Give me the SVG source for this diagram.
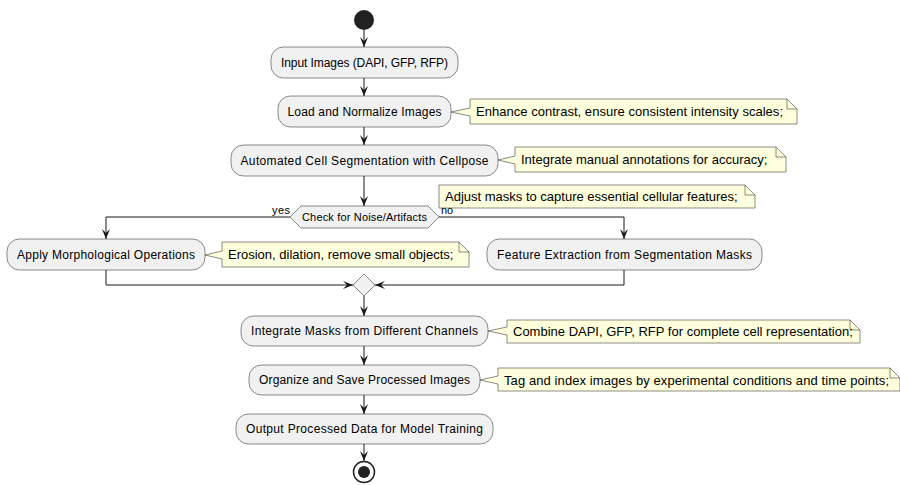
<svg xmlns="http://www.w3.org/2000/svg" width="900" height="485" viewBox="0 0 900 485">
  <style>
    .act { fill: #F1F1F1; stroke: #181818; stroke-width: 0.5; }
    .note { fill: #FEFFDD; stroke: #181818; stroke-width: 0.5; }
    .fold { fill: none; stroke: #181818; stroke-width: 0.5; }
    .lbl { font-family: "Liberation Sans", Arial, sans-serif; font-size: 12px; fill: #000; text-anchor: middle; }
    .ntxt { font-family: "Liberation Sans", Arial, sans-serif; font-size: 13px; fill: #000; }
    .small { font-family: "Liberation Sans", Arial, sans-serif; font-size: 11px; fill: #000; }
    .edge { fill: none; stroke: #181818; stroke-width: 1; }
  </style>
  <defs>
    <marker id="arrow" viewBox="0 0 10 10" refX="10" refY="5" markerWidth="10" markerHeight="10" markerUnits="userSpaceOnUse" orient="auto">
      <path d="M0,1 L10,5 L0,9 L4,5 Z" fill="#181818"/>
    </marker>
  </defs>
  <rect width="900" height="485" fill="#FFFFFF"/>

  <!-- connectors -->
  <g id="edges">
    <path class="edge" d="M364,30 L364,47" marker-end="url(#arrow)"/>
    <path class="edge" d="M364,78 L364,96" marker-end="url(#arrow)"/>
    <path class="edge" d="M364,127 L364,145" marker-end="url(#arrow)"/>
    <path class="edge" d="M364,176 L364,206" marker-end="url(#arrow)"/>
    <path class="edge" d="M290,217 L106,217 L106,239" marker-end="url(#arrow)"/>
    <path class="edge" d="M439,217 L624,217 L624,239" marker-end="url(#arrow)"/>
    <path class="edge" d="M106,270 L106,285 L353,285" marker-end="url(#arrow)"/>
    <path class="edge" d="M624,270 L624,285 L375,285" marker-end="url(#arrow)"/>
    <path class="edge" d="M364,296 L364,316" marker-end="url(#arrow)"/>
    <path class="edge" d="M364,346 L364,365" marker-end="url(#arrow)"/>
    <path class="edge" d="M364,395 L364,414" marker-end="url(#arrow)"/>
    <path class="edge" d="M364,444 L364,461" marker-end="url(#arrow)"/>
    <text class="small" x="272" y="214" textLength="18" lengthAdjust="spacing">yes</text>
    <text class="small" x="441" y="214" textLength="12" lengthAdjust="spacing">no</text>
  </g>

  <g id="start">
    <circle cx="364" cy="20" r="10" fill="#222222"/>
  </g>

  <g id="input">
    <rect class="act" x="271" y="47" width="187" height="31" rx="12.5"/>
    <text class="lbl" x="364.5" y="67" textLength="167" lengthAdjust="spacing">Input Images (DAPI, GFP, RFP)</text>
  </g>

  <g id="load">
    <rect class="act" x="278" y="96" width="173" height="31" rx="12.5"/>
    <text class="lbl" x="364.5" y="116" textLength="154" lengthAdjust="spacing">Load and Normalize Images</text>
  </g>
  <g id="note-load">
    <path class="note" d="M470,99 L470,108 L451,112 L470,116 L470,124 L797,124 L797,109 L787,99 Z"/>
    <path class="fold" d="M787,99 L787,109 L797,109"/>
    <text class="ntxt" x="476" y="116" textLength="307" lengthAdjust="spacing">Enhance contrast, ensure consistent intensity scales;</text>
  </g>

  <g id="segment">
    <rect class="act" x="231" y="145" width="267" height="31" rx="12.5"/>
    <text class="lbl" x="364.5" y="165" textLength="248" lengthAdjust="spacing">Automated Cell Segmentation with Cellpose</text>
  </g>
  <g id="note-segment">
    <path class="note" d="M515,147 L515,156 L498,160 L515,164 L515,172 L786,172 L786,157 L776,147 Z"/>
    <path class="fold" d="M776,147 L776,157 L786,157"/>
    <text class="ntxt" x="521" y="164">Integrate manual annotations for accuracy;</text>
  </g>

  <g id="note-adjust">
    <path class="note" d="M439,185 L745,185 L755,195 L755,208 L439,208 Z"/>
    <path class="fold" d="M745,185 L745,195 L755,195"/>
    <text class="ntxt" x="445" y="201">Adjust masks to capture essential cellular features;</text>
  </g>

  <g id="check">
    <polygon class="act" points="290,217 301,206 428,206 439,217 428,228 301,228"/>
    <text class="small" x="364.5" y="221" text-anchor="middle" textLength="125" lengthAdjust="spacing">Check for Noise/Artifacts</text>
  </g>

  <g id="morph">
    <rect class="act" x="7" y="239" width="198" height="31" rx="12.5"/>
    <text class="lbl" x="106" y="259" textLength="178" lengthAdjust="spacing">Apply Morphological Operations</text>
  </g>
  <g id="note-morph">
    <path class="note" d="M222,242 L222,251 L205,255 L222,259 L222,267 L469,267 L469,252 L459,242 Z"/>
    <path class="fold" d="M459,242 L459,252 L469,252"/>
    <text class="ntxt" x="228" y="259">Erosion, dilation, remove small objects;</text>
  </g>

  <g id="features">
    <rect class="act" x="487" y="239" width="275" height="31" rx="12.5"/>
    <text class="lbl" x="624.5" y="259" textLength="255" lengthAdjust="spacing">Feature Extraction from Segmentation Masks</text>
  </g>

  <g id="merge">
    <polygon class="act" points="364,274 375,285 364,296 353,285"/>
  </g>

  <g id="integrate">
    <rect class="act" x="241" y="316" width="247" height="30" rx="12.5"/>
    <text class="lbl" x="364.5" y="335" textLength="227" lengthAdjust="spacing">Integrate Masks from Different Channels</text>
  </g>
  <g id="note-integrate">
    <path class="note" d="M507,320 L507,327 L488,331 L507,335 L507,343 L860,343 L860,330 L850,320 Z"/>
    <path class="fold" d="M850,320 L850,330 L860,330"/>
    <text class="ntxt" x="513" y="336">Combine DAPI, GFP, RFP for complete cell representation;</text>
  </g>

  <g id="organize">
    <rect class="act" x="249" y="365" width="231" height="30" rx="12.5"/>
    <text class="lbl" x="364.5" y="384" textLength="211" lengthAdjust="spacing">Organize and Save Processed Images</text>
  </g>
  <g id="note-organize">
    <path class="note" d="M498,368 L498,376 L480,380 L498,384 L498,391 L900,391 L900,378 L890,368 Z"/>
    <path class="fold" d="M890,368 L890,378 L900,378"/>
    <text class="ntxt" x="504" y="385" textLength="385" lengthAdjust="spacing">Tag and index images by experimental conditions and time points;</text>
  </g>

  <g id="output">
    <rect class="act" x="236" y="414" width="257" height="30" rx="12.5"/>
    <text class="lbl" x="364.5" y="433" textLength="237" lengthAdjust="spacing">Output Processed Data for Model Training</text>
  </g>

  <g id="end">
    <circle cx="364" cy="472" r="10.5" fill="none" stroke="#222222" stroke-width="1.5"/>
    <circle cx="364" cy="472" r="6" fill="#222222"/>
  </g>
</svg>
